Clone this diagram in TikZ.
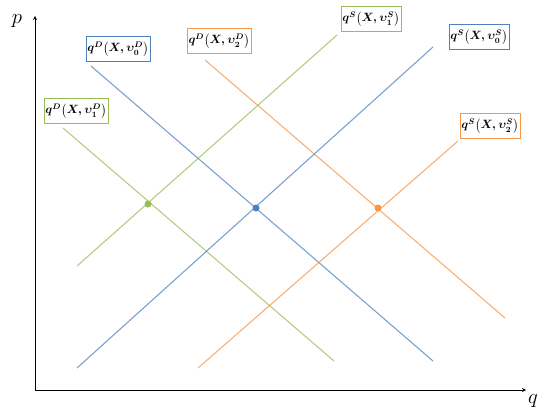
\documentclass[tikz,border=0pt]{standalone}
\usepackage{amsmath}
\usepackage{bm}
\usepackage{tikz}
\definecolor{offgreen}{HTML}{9BBB59}
\definecolor{offblue}{HTML}{4F81BD}
\definecolor{offorange}{HTML}{F79646}
\tikzset{
	gn/.style={draw=offgreen, fill=white, rectangle},
	bn/.style={draw=offblue, fill=white, rectangle},
	on/.style={draw=offorange, fill=white, rectangle},
	axis/.style={->, >=stealth, thick}
}

\begin{document}
\begin{tikzpicture}[x=1pt, y=-1pt,
				lbl/.style={
					inner sep=1.5pt,
					minimum height=25pt,
					font=\large\boldmath
				},
				curve/.style={line width=1.1pt, opacity=0.75},
				eq/.style={circle, inner sep=0pt, minimum size=7pt}
				]
				\useasboundingbox (0,0) rectangle (540,414);
				
				% axes
				\coordinate (o) at (35,390);
				\coordinate (ptop) at (35,16);
				\coordinate (qend) at (526,390);
				\draw[axis] (o) -- (ptop);
				\draw[axis] (o) -- (qend);
				\node (p) at (17,21) {\huge $p$};
				\node (q) at (533,401) {\huge $q$};
				
				% demand curves
				\coordinate (dg1) at (63,128);
				\coordinate (dg2) at (334,361);
				\coordinate (db1) at (91,66);
				\coordinate (db2) at (433,361);
				\coordinate (do1) at (205,60);
				\coordinate (do2) at (505,318);
				\draw[curve, offgreen] (dg1) -- (dg2);
				\draw[curve, offblue] (db1) -- (db2);
				\draw[curve, offorange] (do1) -- (do2);
				
				% supply curves
				\coordinate (sg1) at (77,266);
				\coordinate (sg2) at (337,35);
				\coordinate (sb1) at (77,368);
				\coordinate (sb2) at (433,47);
				\coordinate (so1) at (198,368);
				\coordinate (so2) at (458,141);
				\draw[curve, offgreen] (sg1) -- (sg2);
				\draw[curve, offblue] (sb1) -- (sb2);
				\draw[curve, offorange] (so1) -- (so2);
				
				% equilibria
				\node[eq, fill=offgreen] (eg) at (148,204) {};
				\node[eq, fill=offblue] (eb) at (256,208) {};
				\node[eq, fill=offorange] (eo) at (378,208) {};
				
				% labels
				\node[gn, lbl] (ldg) at (76,111) {$q^{D}\!\left(X,\upsilon_1^{D}\right)$};
				\node[bn, lbl] (ldb) at (118,49) {$q^{D}\!\left(X,\upsilon_0^{D}\right)$};
				\node[on, lbl] (ldo) at (219,41) {$q^{D}\!\left(X,\upsilon_2^{D}\right)$};
				\node[gn, lbl] (lsg) at (371,19) {$q^{S}\!\left(X,\upsilon_1^{S}\right)$};
				\node[bn, lbl] (lsb) at (479,37) {$q^{S}\!\left(X,\upsilon_0^{S}\right)$};
				\node[on, lbl] (lso) at (490,126) {$q^{S}\!\left(X,\upsilon_2^{S}\right)$};
				
			\end{tikzpicture}
\end{document}
